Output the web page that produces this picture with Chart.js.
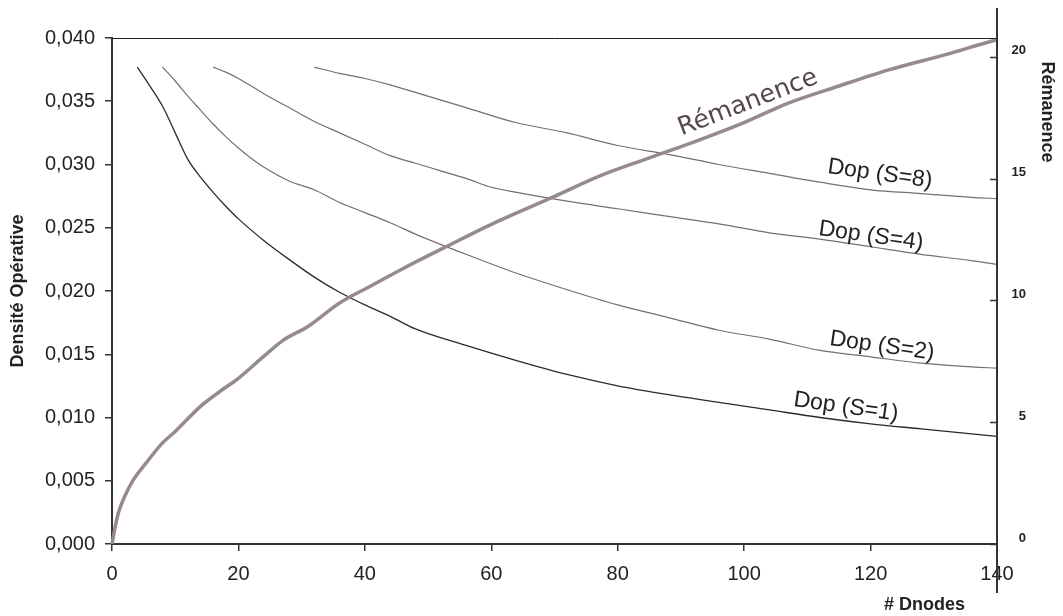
<!DOCTYPE html>
<html><head><meta charset="utf-8">
<script src="https://cdn.jsdelivr.net/npm/chart.js@4/dist/chart.umd.min.js"></script>
<style>html,body{margin:0;padding:0;background:#fff}#wrap{width:1063px;height:616px;position:relative}</style>
</head><body><div id="wrap"><canvas id="c" width="1063" height="616"></canvas></div>
<script>
// ---- data ----
const S1_X = [4, 6, 8, 10, 12, 14, 16, 18, 20, 24, 28, 32, 36, 40, 44, 48, 56, 64, 72, 80, 88, 96, 104, 112, 120, 128, 136, 140];
const S1_Y = [0.0377, 0.0362, 0.0346, 0.0325, 0.0304, 0.0290, 0.0278, 0.0267, 0.0257, 0.0240, 0.0225, 0.0211, 0.0199, 0.0189, 0.0180, 0.0170, 0.0157, 0.0145, 0.0134, 0.0125, 0.0118, 0.0112, 0.0106, 0.0100, 0.0095, 0.0091, 0.0087, 0.0085];

const S2_X = [8, 10, 12, 14, 16, 18, 20, 22, 24, 28, 32, 36, 40, 44, 48, 56, 64, 72, 80, 88, 96, 104, 112, 120, 128, 136, 140];
const S2_Y = [0.0377, 0.0366, 0.0354, 0.0343, 0.0332, 0.0322, 0.0313, 0.0305, 0.0298, 0.0287, 0.0280, 0.0270, 0.0262, 0.0254, 0.0245, 0.0229, 0.0214, 0.0201, 0.0189, 0.0179, 0.0169, 0.0162, 0.0153, 0.0148, 0.0143, 0.0140, 0.0139];

const S4_X = [16, 18, 20, 24, 28, 32, 36, 40, 44, 48, 52, 56, 60, 64, 72, 80, 88, 96, 104, 112, 120, 128, 136, 140];
const S4_Y = [0.0377, 0.0373, 0.0368, 0.0356, 0.0345, 0.0334, 0.0325, 0.0316, 0.0307, 0.0301, 0.0295, 0.0289, 0.0282, 0.0278, 0.0271, 0.0265, 0.0259, 0.0253, 0.0246, 0.0241, 0.0235, 0.0229, 0.0224, 0.0221];

const S8_X = [32, 36, 40, 44, 48, 56, 64, 72, 80, 88, 96, 104, 112, 120, 128, 136, 140];
const S8_Y = [0.0377, 0.0372, 0.0368, 0.0363, 0.0357, 0.0345, 0.0333, 0.0325, 0.0315, 0.0308, 0.0300, 0.0293, 0.0286, 0.0280, 0.0277, 0.0274, 0.0273];

const REM_X = [0, 0.5, 1, 2, 3.4, 5.4, 8, 10, 14, 17, 20, 24, 27, 31, 36, 41, 46, 53, 61, 70, 77, 85, 92, 100, 107, 115, 123, 132, 140, 142.3];
const REM_Y = [0, 0.7, 1.27, 1.95, 2.64, 3.33, 4.15, 4.62, 5.65, 6.25, 6.8, 7.7, 8.35, 8.93, 9.89, 10.6, 11.3, 12.22, 13.24, 14.27, 15.09, 15.85, 16.5, 17.3, 18.1, 18.8, 19.47, 20.1, 20.7, 20.83];

const SERIES_NAMES = ['Dop (S=1)', 'Dop (S=2)', 'Dop (S=4)', 'Dop (S=8)', 'Rémanence'];
const X_TICKS = [0, 20, 40, 60, 80, 100, 120, 140];
const LEFT_TICKS = [0, 0.005, 0.010, 0.015, 0.020, 0.025, 0.030, 0.035, 0.040];
const RIGHT_TICKS = [0, 5, 10, 15, 20];
const X_TITLE = '# Dnodes';
const LEFT_TITLE = 'Densité Opérative';
const RIGHT_TITLE = 'Rémanence';

// ---- helpers ----
const pts = (xs, ys) => xs.map((x, i) => ({x: x, y: ys[i]}));
const FONT = '"Liberation Sans", Arial, sans-serif';
const DOP_COL = '#7b6d6d';

const decor = {
  id: 'decor',
  afterDatasetsDraw(chart) {
    const {ctx, chartArea: ca, scales} = chart;
    ctx.save();
    // top border of plot
    ctx.strokeStyle = '#222'; ctx.lineWidth = 1;
    ctx.beginPath(); ctx.moveTo(ca.left, ca.top + 0.5); ctx.lineTo(ca.right, ca.top + 0.5); ctx.stroke();
    // long right axis line
    ctx.strokeStyle = '#333'; ctx.lineWidth = 2;
    ctx.beginPath(); ctx.moveTo(ca.right, 8); ctx.lineTo(ca.right, 593); ctx.stroke();
    // inward ticks on right axis
    ctx.lineWidth = 1.5;
    RIGHT_TICKS.forEach(v => {
      const y = Math.round(scales.y2.getPixelForValue(v)) + 0.5;
      ctx.beginPath(); ctx.moveTo(ca.right - 7, y); ctx.lineTo(ca.right, y); ctx.stroke();
    });
    // series labels
    const lab = (txt, x, y, ang, font, col) => {
      ctx.save(); ctx.translate(x, y); ctx.rotate(ang * Math.PI / 180);
      ctx.font = font; ctx.fillStyle = col; ctx.textAlign = 'center'; ctx.textBaseline = 'middle';
      ctx.fillText(txt, 0, 0); ctx.restore();
    };
    const f = '23px ' + FONT;
    lab(SERIES_NAMES[3], 880, 174, 8, f, '#222');
    lab(SERIES_NAMES[2], 871, 236, 8, f, '#222');
    lab(SERIES_NAMES[1], 882, 346, 8, f, '#222');
    lab(SERIES_NAMES[0], 846, 407, 8, f, '#222');
    lab(SERIES_NAMES[4], 748, 103, -21, '25px "DejaVu Sans", sans-serif', '#55474a');
    // right axis title
    ctx.save(); ctx.translate(1047, 112); ctx.rotate(Math.PI / 2);
    ctx.font = 'bold 18px ' + FONT; ctx.fillStyle = '#222'; ctx.textAlign = 'center'; ctx.textBaseline = 'middle';
    ctx.fillText(RIGHT_TITLE, 0, 0); ctx.restore();
    // x axis title
    ctx.font = 'bold 18px ' + FONT; ctx.fillStyle = '#222'; ctx.textAlign = 'right'; ctx.textBaseline = 'middle';
    ctx.fillText(X_TITLE, 965, 605);
    ctx.restore();
  }
};

new Chart(document.getElementById('c'), {
  type: 'line',
  data: {
    datasets: [
      {label: SERIES_NAMES[4], data: pts(REM_X, REM_Y), yAxisID: 'y2', borderColor: '#978a8a', borderWidth: 3.5, clip: false},
      {label: SERIES_NAMES[0], data: pts(S1_X, S1_Y), yAxisID: 'y', borderColor: '#2a2a2a', borderWidth: 1.3},
      {label: SERIES_NAMES[1], data: pts(S2_X, S2_Y), yAxisID: 'y', borderColor: DOP_COL, borderWidth: 1.2},
      {label: SERIES_NAMES[2], data: pts(S4_X, S4_Y), yAxisID: 'y', borderColor: DOP_COL, borderWidth: 1.2},
      {label: SERIES_NAMES[3], data: pts(S8_X, S8_Y), yAxisID: 'y', borderColor: DOP_COL, borderWidth: 1.2}
    ]
  },
  options: {
    responsive: false,
    animation: false,
    devicePixelRatio: 1,
    layout: {padding: {top: 38, left: 0, right: 37, bottom: 0}},
    elements: {point: {radius: 0}, line: {cubicInterpolationMode: 'monotone', fill: false}},
    plugins: {legend: {display: false}, tooltip: {enabled: false}, title: {display: false}},
    scales: {
      x: {
        type: 'linear', position: 'bottom', min: 0, max: 140,
        afterBuildTicks: s => { s.ticks = X_TICKS.map(v => ({value: v})); },
        afterFit: s => { s.height = 72; },
        grid: {drawOnChartArea: false, drawTicks: true, tickLength: 7, color: '#333', lineWidth: 1.5},
        border: {display: true, color: '#333', width: 2},
        ticks: {font: {family: FONT, size: 20}, color: '#222', padding: 11, maxRotation: 0, autoSkip: false}
      },
      y: {
        type: 'linear', position: 'left', min: 0, max: 0.04,
        afterBuildTicks: s => { s.ticks = LEFT_TICKS.map(v => ({value: v})); },
        afterFit: s => { s.width = 112; },
        grid: {drawOnChartArea: false, drawTicks: true, tickLength: 7, color: '#333', lineWidth: 1.5},
        border: {display: true, color: '#333', width: 2},
        ticks: {font: {family: FONT, size: 20}, color: '#222', padding: 10,
                callback: v => v.toFixed(3).replace('.', ',')},
        title: {display: true, text: LEFT_TITLE, font: {family: FONT, size: 18, weight: 'bold'}, color: '#222', padding: {top: 7, bottom: 0}}
      },
      y2: {
        type: 'linear', position: 'right', min: 0, max: 20.77,
        afterBuildTicks: s => { s.ticks = RIGHT_TICKS.map(v => ({value: v})); },
        afterFit: s => { s.width = 29; },
        grid: {display: true, drawOnChartArea: false, drawTicks: false},
        border: {display: false},
        ticks: {font: {family: FONT, size: 13, weight: 'bold'}, color: '#222', padding: 12, crossAlign: 'far', labelOffset: -6}
      }
    }
  },
  plugins: [decor]
});
</script>
</body></html>
